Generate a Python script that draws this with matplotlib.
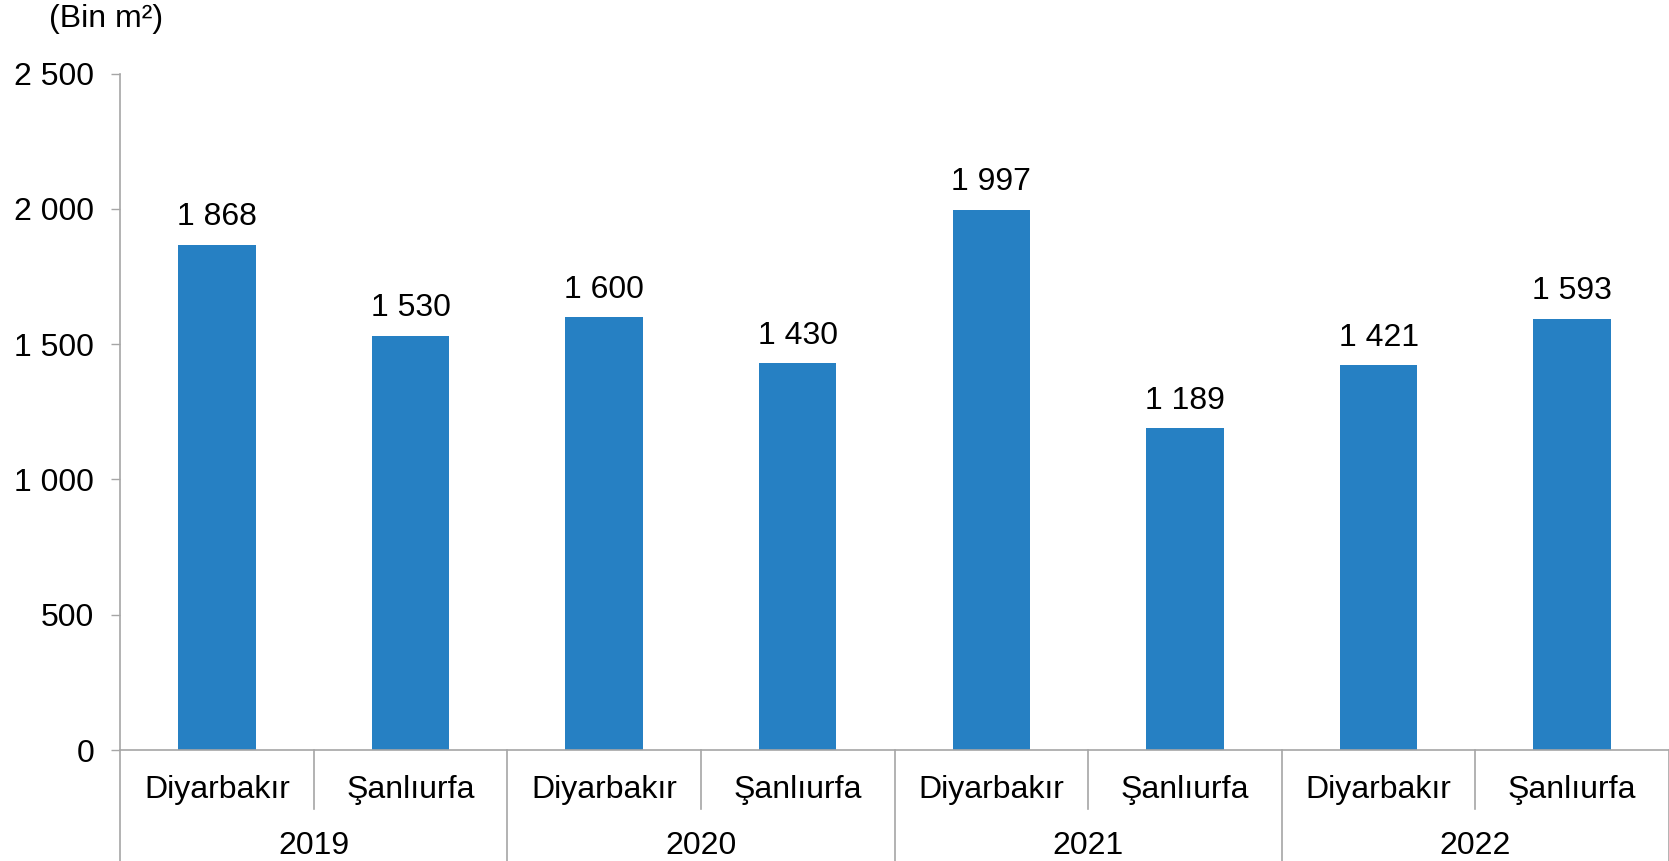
import matplotlib
matplotlib.use("Agg")
import matplotlib.pyplot as plt
from matplotlib.transforms import blended_transform_factory

plt.rcParams['font.family'] = ['Liberation Sans', 'DejaVu Sans']

years = ["2019", "2020", "2021", "2022"]
cities = ["Diyarbakır", "Şanlıurfa"]
values = [1868, 1530, 1600, 1430, 1997, 1189, 1421, 1593]
yticks = [0, 500, 1000, 1500, 2000, 2500]
ytick_labels = ["0", "500", "1 000", "1 500", "2 000", "2 500"]

bar_color = "#2680c3"
axis_color = "#a6a6a6"
fs = 23

W, H = 1669, 861
fig = plt.figure(figsize=(W / 100, H / 100), dpi=100)
ax = fig.add_axes([120 / W, 111 / H, 1 - 120 / W, (750 - 73.5) / H])

n = len(values)
xs = list(range(n))
ax.bar(xs, values, width=0.4, color=bar_color, zorder=2)
ax.set_xlim(-0.5, n - 0.5)
ax.set_ylim(0, 2500)

for x, v in zip(xs, values):
    s = f"{v:,}".replace(",", " ")
    ax.annotate(s, (x, v), xytext=(0, 9), textcoords="offset points",
                ha="center", va="bottom", fontsize=fs)

ax.set_yticks(yticks)
ax.set_yticklabels(ytick_labels, fontsize=fs)
ax.tick_params(axis="y", length=6.5, width=1, color=axis_color, pad=12)
ax.set_xticks([])

for side in ["top", "right"]:
    ax.spines[side].set_visible(False)
for side in ["left", "bottom"]:
    ax.spines[side].set_color(axis_color)
    ax.spines[side].set_linewidth(1.2)

# multi-level x axis
trans = blended_transform_factory(ax.transData, ax.transAxes)
axh = (750 - 73.5)
sub_depth = -59 / axh
grp_depth = -111 / axh
for i in range(n + 1):
    xb = i - 0.5
    depth = grp_depth if i % 2 == 0 else sub_depth
    ax.plot([xb, xb], [0, depth], transform=trans, color=axis_color,
            lw=1.2, clip_on=False)

for i, x in enumerate(xs):
    ax.text(x, -40 / axh, cities[i % 2], transform=trans, ha="center",
            va="center", fontsize=fs)
for g, yr in enumerate(years):
    ax.text(2 * g + 0.5, -96 / axh, yr, transform=trans, ha="center",
            va="center", fontsize=fs)

fig.text(106 / W, 1 - 19 / H, "(Bin m²)", ha="center", va="center",
         fontsize=fs)

fig.savefig("out.png", dpi=100)
